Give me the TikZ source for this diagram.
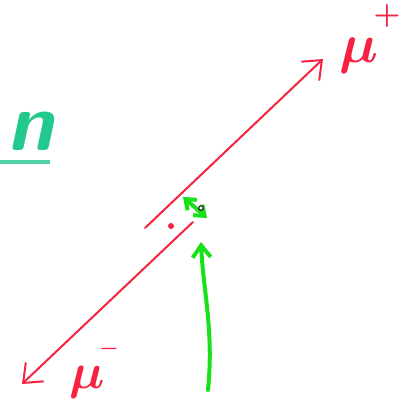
\documentclass[tikz,border=0pt]{standalone}
\usepackage{tikz}
\usepackage{amsmath}
\usetikzlibrary{arrows.meta}
\definecolor{penred}{RGB}{245,35,65}
\definecolor{pengreen}{RGB}{25,225,25}
\definecolor{titlegreen}{RGB}{35,200,140}

\begin{document}
\begin{tikzpicture}[
  x=1pt,y=-1pt,
  track/.style={line width=2pt,draw=penred,line cap=round,
    -{Straight Barb[length=16pt,width=26pt,line width=2pt]}},
  hint/.style={line width=4pt,draw=pengreen,line cap=round},
  lbl/.style={text=penred,inner sep=0pt},
  ttl/.style={text=titlegreen,inner sep=0pt,font=\sffamily\bfseries\itshape\fontsize{82}{82}\selectfont}
]
\useasboundingbox (0,0) rectangle (415,409);

% ---- the cut-off title ----
\node[ttl,anchor=base east] (title) at (54,150) {n};
\coordinate (ulA) at (0,162);
\coordinate (ulB) at (50,162);
\draw[line width=4pt,draw=titlegreen!80] (ulA) -- (ulB);

% ---- the two muons ----
\coordinate (vtx) at (171,226);
\coordinate (upA) at (145,228);
\coordinate (upB) at (323,59);
\coordinate (loA) at (193,222);
\coordinate (loB) at (22,384);
\draw[track] (upA) -- (upB);
\draw[track] (loA) -- (loB);
\fill[penred] (vtx) circle (3pt);

\node[lbl] (muplus) at (359,56) {\scalebox{5.5}{$\boldsymbol{\mu}$}};
\node[lbl] (plus) at (387,16) {\scalebox{3}{$\boldsymbol{+}$}};
\node[lbl] (muminus) at (87,382) {\scalebox{5}{$\boldsymbol{\mu}$}};
\node[lbl] (minus) at (109,349) {\scalebox{2.2}{$\boldsymbol{-}$}};

% ---- the gap between the tracks ----
\coordinate (gapA) at (183,197);
\coordinate (gapB) at (207,218);
\draw[hint,{Straight Barb[length=9pt,width=14pt,line width=4pt]}-{Straight Barb[length=9pt,width=14pt,line width=4pt]}] (gapA) -- (gapB);
\draw[line width=1pt,fill=white] (201,208) circle (2.3pt);

% ---- pointer from below ----
\coordinate (ptrA) at (208,390);
\coordinate (ptrB) at (201,242);
\draw[hint,-{Straight Barb[length=12pt,width=18pt,line width=4pt]}]
  (ptrA) .. controls (214,330) and (203,290) .. (ptrB);

\end{tikzpicture}
\end{document}
